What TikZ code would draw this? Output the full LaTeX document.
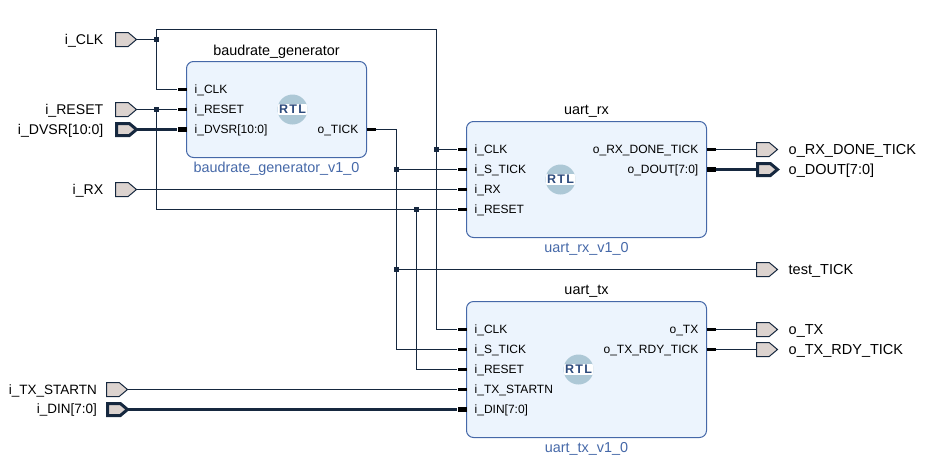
\documentclass[tikz,border=0pt]{standalone}
\usepackage{fontspec}
\setmainfont{Liberation Sans}
\usetikzlibrary{shapes.symbols}
\definecolor{wirecol}{HTML}{16283F}
\definecolor{portcol}{HTML}{DCD3CF}
\definecolor{blockcol}{HTML}{ECF4FD}
\definecolor{edgecol}{HTML}{4568A8}
\definecolor{rtlcol}{HTML}{ADC8D6}
\definecolor{rtltext}{HTML}{2C4A7C}
\tikzset{
  wire/.style={draw=wirecol,line width=1pt},
  buswire/.style={draw=wirecol,line width=3pt},
  port/.style={signal,signal to=east,signal pointer angle=80,draw=wirecol,fill=portcol,
    line width=1pt,minimum width=21pt,minimum height=14pt,inner sep=0pt,outer sep=0pt},
  busport/.style={port,line width=3pt,minimum width=20pt,minimum height=12pt},
  portname/.style={font=\fontsize{14.5}{16}\selectfont,inner sep=0pt,yshift=-1pt},
  leftname/.style={portname,font=\fontsize{14.1}{16}\selectfont},
  lowname/.style={portname,font=\fontsize{13.5}{16}\selectfont},
  blocktitle/.style={font=\fontsize{14.4}{16}\selectfont,inner sep=0pt,yshift=-1pt},
  blockver/.style={blocktitle,text=edgecol},
  block/.style={draw=edgecol,fill=blockcol,line width=1pt,rounded corners=7pt,inner sep=0pt},
  pinname/.style={font=\fontsize{12}{14}\selectfont,inner sep=0pt,yshift=-1pt},
  stub/.style={fill=black,inner sep=0pt,minimum width=9pt,minimum height=3pt},
  busstub/.style={stub,minimum height=5pt},
  junc/.style={fill=wirecol,inner sep=0pt,minimum size=5pt},
  rtl/.style={circle,fill=rtlcol,inner sep=0pt,minimum size=30pt,text=rtltext,
    font=\fontsize{12.5}{14}\bfseries\addfontfeature{LetterSpace=10},
    path picture={\fill[white] ([yshift=-5.5pt]path picture bounding box.west) rectangle ([yshift=5.5pt]path picture bounding box.east);}}
}
\begin{document}
\begin{tikzpicture}[x=1pt,y=-1pt]
\useasboundingbox (0,0) rectangle (934,464);
\begin{scope}[shift={(.5,.5)}]
% blocks
\node[block,minimum width=180pt,minimum height=96pt] (brg) at (276,109) {};
\node[block,minimum width=240pt,minimum height=116pt] (rx) at (586,179) {};
\node[block,minimum width=240pt,minimum height=136pt] (tx) at (586,369) {};
\node[blocktitle] (brgtitle) at (276,50) {baudrate\_generator};
\node[blocktitle] (rxtitle) at (586,110) {uart\_rx};
\node[blocktitle] (txtitle) at (586,290) {uart\_tx};
\node[blockver] (brgver) at (276,167) {baudrate\_generator\_v1\_0};
\node[blockver] (rxver) at (586,247) {uart\_rx\_v1\_0};
\node[blockver] (txver) at (586,447) {uart\_tx\_v1\_0};
\node[rtl] (brgrtl) at (292,109) {RTL};
\node[rtl] (rxrtl) at (560,179) {RTL};
\node[rtl] (txrtl) at (578,369) {RTL};
% block pins
\foreach \nm/\y/\txt in {brgclk/89/i\_CLK,brgrst/109/i\_RESET}{
  \node[stub] (\nm) at (181.5,\y) {};
  \node[pinname,anchor=west] (\nm txt) at (194,\y) {\txt};
}
\node[busstub] (brgdvsr) at (181.5,129) {};
\node[pinname,anchor=west] (brgdvsrtxt) at (194,129) {i\_DVSR[10:0]};
\node[stub] (brgtick) at (370.5,129) {};
\node[pinname,anchor=east] (brgticktxt) at (358,129) {o\_TICK};
\foreach \nm/\y/\txt in {rxclk/149/i\_CLK,rxtick/169/i\_S\_TICK,rxin/189/i\_RX,rxrst/209/i\_RESET,
  txclk/329/i\_CLK,txtick/349/i\_S\_TICK,txrst/369/i\_RESET,txstart/389/i\_TX\_STARTN}{
  \node[stub] (\nm) at (461.5,\y) {};
  \node[pinname,anchor=west] (\nm txt) at (474,\y) {\txt};
}
\node[busstub] (txdin) at (461.5,409) {};
\node[pinname,anchor=west] (txdintxt) at (474,409) {i\_DIN[7:0]};
\foreach \nm/\y/\txt in {rxdone/149/o\_RX\_DONE\_TICK,txout/329/o\_TX,txrdy/349/o\_TX\_RDY\_TICK}{
  \node[stub] (\nm) at (710.5,\y) {};
  \node[pinname,anchor=east] (\nm txt) at (698,\y) {\txt};
}
\node[busstub] (rxdout) at (710.5,169) {};
\node[pinname,anchor=east] (rxdouttxt) at (698,169) {o\_DOUT[7:0]};
% ports
\foreach \nm/\y/\txt in {clkin/39/i\_CLK,rstin/109/i\_RESET,rxdin/189/i\_RX}{
  \node[port,anchor=east] (\nm) at (136,\y) {};
  \node[leftname,anchor=east] (\nm txt) at (103,\y) {\txt};
}
\node[busport,anchor=east] (dvsrin) at (136,129) {};
\node[leftname,anchor=east] (dvsrintxt) at (103,129) {i\_DVSR[10:0]};
\node[port,anchor=east] (startin) at (127,389) {};
\node[lowname,anchor=east] (startintxt) at (96.5,389) {i\_TX\_STARTN};
\node[busport,anchor=east] (dinin) at (127,409) {};
\node[lowname,anchor=east] (dinintxt) at (96.5,409) {i\_DIN[7:0]};
\foreach \nm/\y/\txt in {doneout/149/o\_RX\_DONE\_TICK,testout/269/test\_TICK,
  txpin/329/o\_TX,rdyout/349/o\_TX\_RDY\_TICK}{
  \node[port,anchor=west] (\nm) at (756,\y) {};
  \node[portname,anchor=west] (\nm txt) at (788,\y) {\txt};
}
\node[busport,anchor=west] (doutout) at (757,169) {};
\node[portname,anchor=west] (doutouttxt) at (788,169) {o\_DOUT[7:0]};
% junctions
\node[junc] (jclk) at (156,39) {};
\node[junc] (jrst) at (156,109) {};
\node[junc] (jrxclk) at (436,149) {};
\node[junc] (jrxtick) at (396,169) {};
\node[junc] (jrxrst) at (416,209) {};
\node[junc] (jtest) at (396,269) {};
\coordinate (clktop) at (156,29);
\coordinate (clkright) at (436,29);
\coordinate (tickbend) at (396,129);
\coordinate (rstbend) at (156,209);
% wires
\draw[wire] (clkin.east) -- (jclk);
\draw[wire] (jclk) |- (brgclk.west);
\draw[wire] (jclk) -- (clktop) -- (clkright) |- (txclk.west);
\draw[wire] (jrxclk) -- (rxclk.west);
\draw[wire] (rstin.east) -- (brgrst.west);
\draw[wire] (jrst) -- (rstbend) -- (rxrst.west);
\draw[wire] (jrxrst) |- (txrst.west);
\draw[buswire] (dvsrin.east) -- (brgdvsr.west);
\draw[wire] (brgtick.east) -- (tickbend) |- (txtick.west);
\draw[wire] (jrxtick) -- (rxtick.west);
\draw[wire] (jtest) -- (testout.west);
\draw[wire] (rxdin.east) -- (rxin.west);
\draw[wire] (startin.east) -- (txstart.west);
\draw[buswire] (dinin.east) -- (txdin.west);
\draw[wire] (rxdone.east) -- (doneout.west);
\draw[buswire] (rxdout.east) -- (doutout.west);
\draw[wire] (txout.east) -- (txpin.west);
\draw[wire] (txrdy.east) -- (rdyout.west);
\end{scope}
\end{tikzpicture}
\end{document}
